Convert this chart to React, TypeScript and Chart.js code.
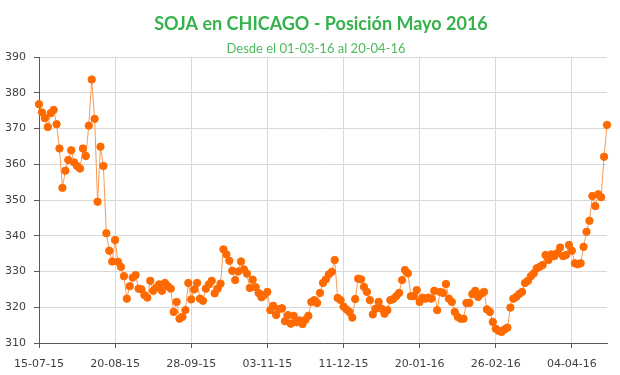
import React, { useEffect, useRef } from "react";
import { Chart, registerables } from "chart.js";

Chart.register(...registerables);

// ---- data ----
const titleText = "SOJA en CHICAGO - Posición Mayo 2016";
const subtitleText = "Desde el 01-03-16 al 20-04-16";

const tickLabels = [
  "15-07-15",
  "20-08-15",
  "28-09-15",
  "03-11-15",
  "11-12-15",
  "20-01-16",
  "26-02-16",
  "04-04-16",
];
const tickEvery = 26;

const prices = [
  // 15-07-15 ..
  376.8, 374.5, 372.9, 370.4, 374.3, 375.2, 371.2, 364.4, 353.4, 358.2,
  361.2, 363.9, 360.5, 359.5, 358.8, 364.4, 362.3, 370.8, 383.7, 372.7,
  349.5, 364.9, 359.5, 340.7, 335.8, 332.8,
  // 20-08-15 ..
  338.8, 332.7, 331.3, 328.7, 322.4, 325.9, 328.3, 329.0, 325.2, 325.0,
  323.4, 322.7, 327.4, 324.6, 325.5, 326.4, 324.6, 326.8, 325.9, 325.2,
  318.7, 321.5, 316.8, 317.3, 319.2, 326.8,
  // 28-09-15 ..
  322.2, 325.0, 326.8, 322.4, 321.8, 325.2, 326.4, 327.4, 323.9, 325.2,
  326.6, 336.2, 334.8, 333.0, 330.2, 327.6, 330.0, 332.8, 330.6, 329.4,
  325.4, 327.7, 325.6, 324.0, 322.8, 323.5,
  // 03-11-15 ..
  324.3, 319.2, 320.4, 317.8, 319.5, 319.7, 316.1, 317.8, 315.4, 317.6,
  315.8, 316.3, 315.3, 316.5, 317.6, 321.5, 322.0, 321.2, 324.0, 326.8,
  327.8, 329.2, 329.9, 333.2, 322.6, 322.0,
  // 11-12-15 ..
  320.2, 319.4, 318.7, 317.1, 322.3, 328.0, 327.8, 325.7, 324.3, 322.0,
  318.0, 319.6, 321.5, 319.6, 318.2, 319.2, 322.0, 322.3, 323.1, 324.0,
  327.6, 330.4, 329.5, 323.1, 323.1, 324.8,
  // 20-01-16 ..
  321.5, 322.7, 322.4, 322.7, 322.4, 324.6, 319.2, 324.3, 324.0, 326.5,
  322.4, 321.5, 318.7, 317.3, 316.8, 316.8, 321.2, 321.2, 323.7, 324.6,
  322.9, 323.8, 324.3, 319.4, 318.7, 315.9,
  // 26-02-16 ..
  314.0, 313.4, 313.1, 313.8, 314.3, 319.9, 322.4, 322.9, 323.7, 324.3,
  326.8, 327.4, 328.7, 329.5, 330.9, 331.3, 331.8, 334.6, 333.2, 334.8,
  334.3, 335.1, 336.7, 334.3, 334.6, 337.4,
  // 04-04-16 .. 20-04-16
  335.8, 332.3, 332.0, 332.3, 336.9, 341.1, 344.2, 351.1, 348.3, 351.6,
  350.8, 362.1, 371.0,
];

const yMin = 310;
const yMax = 390;
const yStep = 10;

// category labels built from the tick labels
const labels = prices.map((_, i) =>
  i % tickEvery === 0 ? tickLabels[i / tickEvery] ?? "" : ""
);

const GRID = "#d9d9d9";
const AXIS = "#595959";
const TICK_TEXT = "#404040";

const titlePlugin = {
  id: "customTitles",
  afterDraw(chart: any) {
    const ctx = chart.ctx as CanvasRenderingContext2D;
    ctx.save();
    ctx.textAlign = "center";
    ctx.textBaseline = "alphabetic";
    ctx.fillStyle = "#35b24a";
    ctx.font = "bold 18px Lato";
    ctx.fillText(titleText, 321, 30);
    ctx.fillStyle = "#4dbb5b";
    ctx.font = "13px Lato";
    ctx.fillText(subtitleText, 316, 53);
    ctx.restore();
  },
};

export default function App() {
  const canvasRef = useRef<HTMLCanvasElement | null>(null);

  useEffect(() => {
    if (!canvasRef.current) return;
    const chart = new Chart(canvasRef.current, {
      type: "line",
      data: {
        labels,
        datasets: [
          {
            data: prices,
            borderColor: "#f99a55",
            borderWidth: 1,
            backgroundColor: "#ff6a00",
            pointBackgroundColor: "#ff6a00",
            pointBorderColor: "#ff6a00",
            pointRadius: 3.7,
            pointBorderWidth: 1,
            tension: 0,
            fill: false,
            clip: false as any,
          },
        ],
      },
      options: {
        animation: false,
        responsive: false,
        maintainAspectRatio: false,
        layout: { padding: { top: 57, right: 13, left: 0, bottom: 0 } },
        plugins: {
          legend: { display: false },
          tooltip: { enabled: false },
          title: { display: false },
        },
        scales: {
          x: {
            type: "category",
            offset: false,
            grid: {
              color: (c: any) =>
                c.index % tickEvery === 0 ? GRID : "rgba(0,0,0,0)",
              tickColor: (c: any) =>
                c.index % tickEvery === 0 ? AXIS : "rgba(0,0,0,0)",
              tickLength: 5,
              lineWidth: 1,
            },
            border: { color: AXIS, width: 1 },
            ticks: {
              autoSkip: false,
              maxRotation: 0,
              minRotation: 0,
              padding: 10,
              color: TICK_TEXT,
              font: { family: "DejaVu Sans", size: 11 },
              callback: (_v: any, i: number) => labels[i],
            },
            afterFit: (s: any) => {
              s.height = 32;
            },
          },
          y: {
            min: yMin,
            max: yMax,
            grid: { color: GRID, tickColor: AXIS, tickLength: 5, lineWidth: 1 },
            border: { color: AXIS, width: 1 },
            ticks: {
              stepSize: yStep,
              padding: 8,
              color: TICK_TEXT,
              font: { family: "DejaVu Sans", size: 11 },
            },
            afterFit: (s: any) => {
              s.width = 39;
            },
          },
        },
      },
      plugins: [titlePlugin],
    });
    return () => chart.destroy();
  }, []);

  return (
    <div
      style={{
        position: "fixed",
        left: 0,
        top: 0,
        width: 620,
        height: 375,
        background: "#ffffff",
      }}
    >
      <canvas
        ref={canvasRef}
        width={620}
        height={375}
        style={{ display: "block", width: 620, height: 375 }}
      />
    </div>
  );
}
